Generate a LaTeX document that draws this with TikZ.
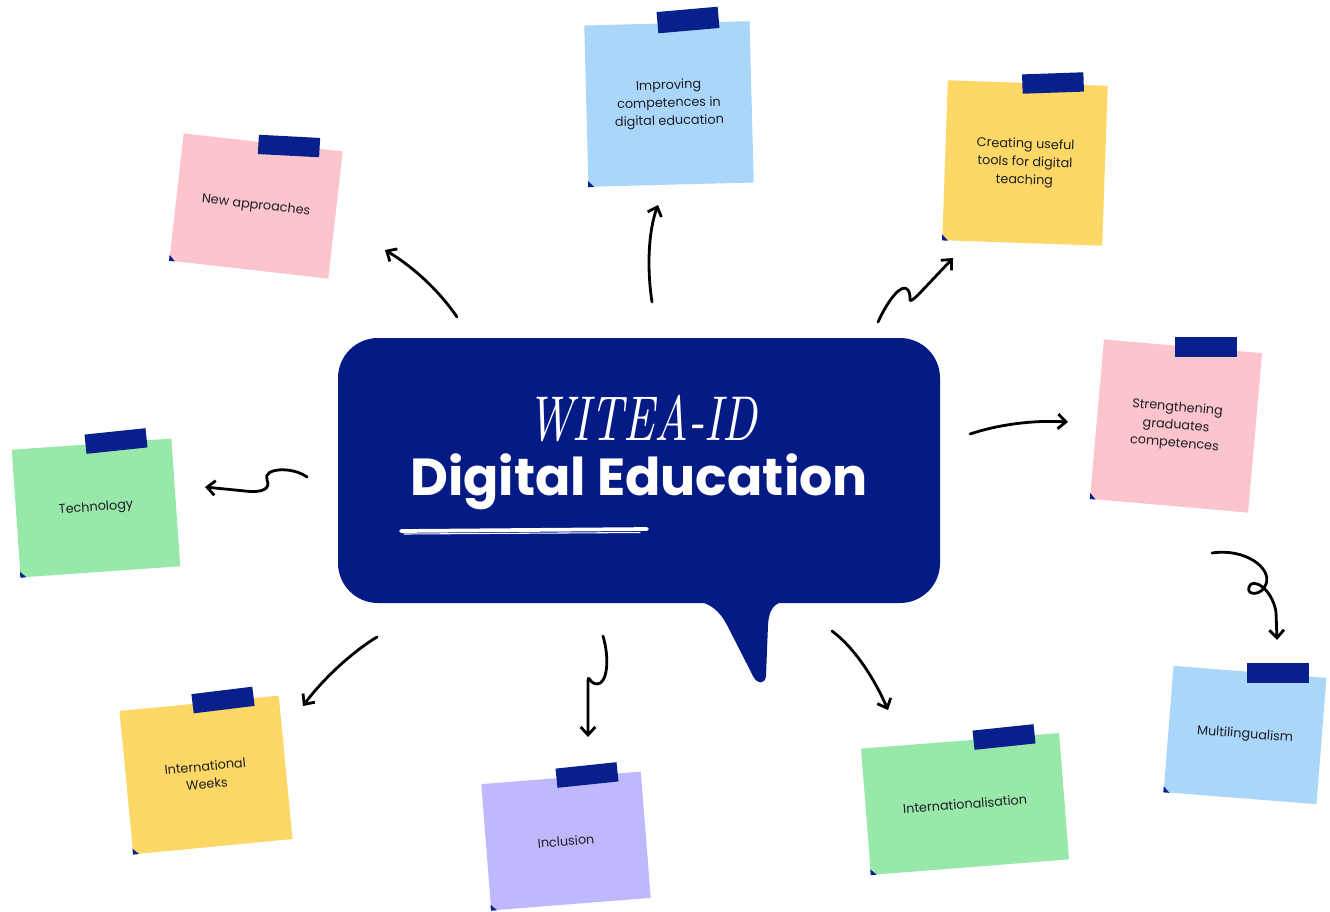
\documentclass[tikz,border=0pt]{standalone}
\usepackage{fontspec}
\usepackage{graphicx}
\newfontfamily\notefont{Poppins}
\newfontfamily\headfont{Poppins}
\usetikzlibrary{arrows.meta,calc}
\definecolor{navy}{RGB}{4,27,134}
\definecolor{tapeblue}{RGB}{8,32,140}
\definecolor{notepink}{RGB}{252,197,205}
\definecolor{noteblue}{RGB}{170,214,250}
\definecolor{noteyellow}{RGB}{253,216,102}
\definecolor{notegreen}{RGB}{152,232,170}
\definecolor{notepurple}{RGB}{192,184,252}
\definecolor{inktext}{RGB}{30,30,36}
\tikzset{
  notebox/.style={fill=#1, text=inktext, font=\notefont\fontsize{9.6}{13.4}\selectfont,
    align=center, inner sep=0pt, minimum width=120pt, minimum height=96pt},
  tape/.style={fill=tapeblue, inner sep=0pt, minimum width=46pt, minimum height=14.5pt},
  link/.style={line width=2.1pt, line cap=round, line join=round,
    -{Straight Barb[length=6pt,width=11pt]}},
  fold/.style={fill=tapeblue},
}
\begin{document}
\begin{tikzpicture}[x=0.75pt,y=-0.75pt]
\fill[white] (0,0) rectangle (1330,911);
\useasboundingbox (0,0) rectangle (1330,911);

% arrow end points
\coordinate (a1s) at (457,317); \coordinate (a1e) at (385,250);
\coordinate (a2s) at (652,302); \coordinate (a2e) at (658,205);
\coordinate (a3s) at (878,322); \coordinate (a3e) at (953,258);
\coordinate (a4s) at (970,434); \coordinate (a4e) at (1068,422);
\coordinate (a5s) at (1212,553); \coordinate (a5e) at (1277,640);
\coordinate (a6s) at (307,477); \coordinate (a6e) at (205,487);
\coordinate (a7s) at (377,637); \coordinate (a7e) at (303,706);
\coordinate (a8s) at (603,636); \coordinate (a8e) at (588,737);
\coordinate (a9s) at (832,631); \coordinate (a9e) at (888,710);

\draw[link] (a1s) .. controls (440,292) and (415,268) .. (a1e);
\draw[link] (a2s) .. controls (647,270) and (648,232) .. (a2e);
\draw[link] (a3s) .. controls (888,300) and (902,282) .. (908,290)
   .. controls (913,297) and (905,307) .. (918,295) -- (a3e);
\draw[link] (a4s) .. controls (1000,424) and (1035,420) .. (a4e);
\draw[link] (a5s) .. controls (1245,548) and (1272,568) .. (1266,584)
   .. controls (1262,596) and (1246,596) .. (1249,587)
   .. controls (1252,577) and (1272,588) .. (1276,612) -- (a5e);
\draw[link] (a6s) .. controls (292,466) and (262,468) .. (267,480)
   .. controls (271,489) and (262,493) .. (245,491) -- (a6e);
\draw[link] (a7s) .. controls (352,652) and (322,680) .. (a7e);
\draw[link] (a8s) .. controls (610,660) and (607,684) .. (597,684)
   .. controls (588,684) and (588,668) .. (588,690) -- (a8e);
\draw[link] (a9s) .. controls (855,648) and (875,680) .. (a9e);

% central speech bubble
\node[fill=navy, rounded corners=30pt, minimum width=451.5pt, minimum height=198.75pt,
  inner sep=0pt] (bubble) at (639,470.5) {};
\fill[navy] (692,600) .. controls (712,603) and (720,612) .. (727,625) -- (753,676)
  .. controls (757,684) and (765,685) .. (766,676) -- (768,625)
  .. controls (769,610) and (773,602) .. (790,600) -- cycle;
\node[text=white, inner sep=0pt] (brand) at (642,419)
  {\resizebox{172pt}{34pt}{\itshape WITEA-ID}};
\node[text=white, inner sep=0pt] (headline) at (639,482)
  {\resizebox{343pt}{!}{\headfont\bfseries Digital Education}};
\draw[white, line width=2.8pt, line cap=round] (401,531) -- (647,529);
\draw[white, line width=0.8pt, line cap=round] (404,534) -- (640,532.5);

% sticky notes
\node[notebox=notepink, rotate=-6.5] (n1) at (256,206) {New approaches};
\node[notebox=noteblue, rotate=1.5, minimum width=124pt, minimum height=121pt] (n2) at (669,104)
  {Improving\\competences in\\digital education};
\node[notebox=noteyellow, rotate=-2, minimum height=120pt] (n3) at (1025,163)
  {Creating useful\\tools for digital\\teaching};
\node[notebox=notepink, rotate=-5, minimum width=119pt, minimum height=120pt] (n4) at (1176,426)
  {Strengthening\\graduates\\competences};
\node[notebox=notegreen, rotate=4] (n5) at (96,508) {Technology};
\node[notebox=noteyellow, rotate=5.5, minimum height=108pt] (n6) at (206,775)
  {International\\Weeks};
\node[notebox=notepurple, rotate=4.5, minimum height=95pt] (n7) at (566,841) {Inclusion};
\node[notebox=notegreen, rotate=4.5, minimum width=149pt, minimum height=95pt] (n8) at (965,804)
  {Internationalisation};
\node[notebox=noteblue, rotate=-4.5, minimum width=115pt, minimum height=95pt] (n9) at (1245,735)
  {Multilingualism};

% curled corners
\foreach \n in {n1,n2,n3,n4,n5,n6,n7,n8,n9}{
  \fill[fold] (\n.south west) -- ($(\n.south west)!4.5pt!(\n.south east)$)
    -- ($(\n.south west)!4.5pt!(\n.north west)$) -- cycle;
}

% tapes
\node[tape, rotate=-3] (t1) at (289,146) {};
\node[tape, rotate=5, minimum height=16pt] (t2) at (688,20) {};
\node[tape, rotate=2] (t3) at (1053,83) {};
\node[tape, rotate=0] (t4) at (1206,347) {};
\node[tape, rotate=6] (t5) at (116,441) {};
\node[tape, rotate=7] (t6) at (223,700) {};
\node[tape, rotate=6] (t7) at (587,775) {};
\node[tape, rotate=6] (t8) at (1004,737) {};
\node[tape, rotate=0] (t9) at (1278,673) {};
\end{tikzpicture}
\end{document}
